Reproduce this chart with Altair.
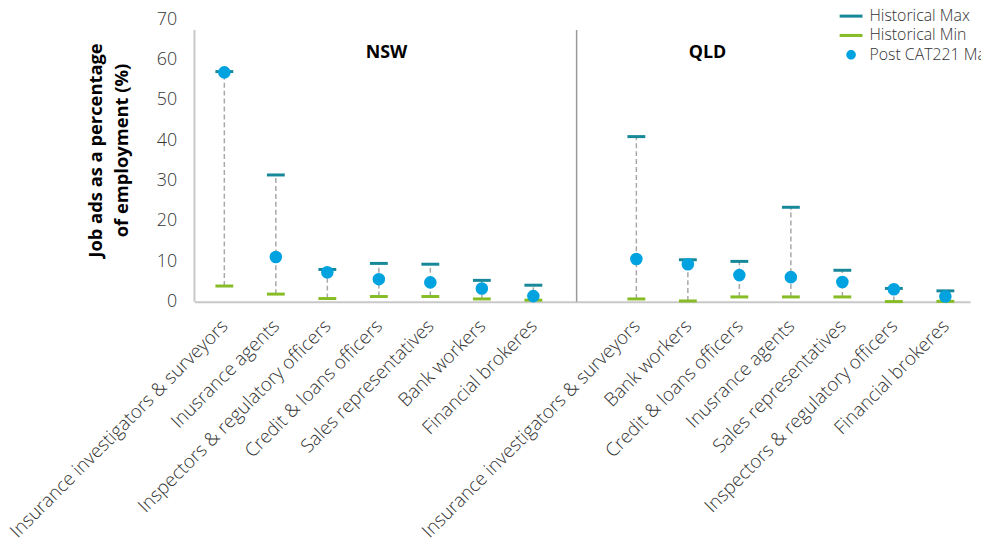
import altair as alt
import pandas as pd

regions = ["NSW"] * 7 + ["QLD"] * 7
categories = [
    "Insurance investigators & surveyors", "Inusrance agents", "Inspectors & regulatory officers",
    "Credit & loans officers", "Sales representatives", "Bank workers", "Financial brokeres",
    "Insurance investigators & surveyors", "Bank workers", "Credit & loans officers",
    "Inusrance agents", "Sales representatives", "Inspectors & regulatory officers", "Financial brokeres",
]
positions = [0, 1, 2, 3, 4, 5, 6, 8, 9, 10, 11, 12, 13, 14]
hist_max = [57.0, 31.4, 8.0, 9.5, 9.3, 5.3, 4.1, 40.9, 10.4, 10.0, 23.4, 7.8, 3.3, 2.7]
hist_min = [3.9, 1.9, 0.8, 1.3, 1.3, 0.7, 0.4, 0.7, 0.2, 1.2, 1.2, 1.2, 0.05, 0.1]
post_cat = [56.8, 11.1, 7.3, 5.6, 4.8, 3.3, 1.4, 10.6, 9.3, 6.6, 6.1, 4.9, 3.1, 1.3]

series_names = ["Historical Max", "Historical Min", "Post CAT221 Max"]
series_colors = ["#17879a", "#86bc25", "#00a3e0"]
LINE_PATH = "M-1.44,-0.19H1.44V0.19H-1.44Z"
DOT_PATH = "M-0.6,0A0.6,0.6 0 1,0 0.6,0A0.6,0.6 0 1,0 -0.6,0Z"
series_shapes = [LINE_PATH, LINE_PATH, DOT_PATH]

panel_names = ["NSW", "QLD"]
panel_x = [3.15, 9.38]
panel_y = [61.5, 61.5]

FONT = "Open Sans"

df = pd.DataFrame({
    "pos": positions, "region": regions, "cat": categories,
    "max": hist_max, "min": hist_min, "post": post_cat,
})

xdom = [-0.58, 14.48]
xscale = alt.Scale(domain=xdom, nice=False, zero=False)
yscale = alt.Scale(domain=[0, 70], nice=False)
cscale = alt.Scale(domain=series_names, range=series_colors)
sscale = alt.Scale(domain=series_names, range=series_shapes)

label_expr = "{" + ",".join(f"'{p}': '{c}'" for p, c in zip(positions, categories)) + "}[datum.value]"

xaxis = alt.Axis(
    values=positions, labelExpr=label_expr, labelAngle=-45, labelAlign="right",
    labelBaseline="middle", labelFont=FONT, labelFontSize=18.9, labelFontWeight=300,
    labelColor="#333333", labelPadding=21, ticks=False, grid=False, labelLimit=1000,
    domainColor="#c8c8c8", domainWidth=2, title=None, labelOverlap=False, labelBound=False,
    labelFlush=False,
)
yaxis = alt.Axis(
    values=[0, 10, 20, 30, 40, 50, 60, 70], labelFont=FONT, labelFontSize=18, labelFontWeight=300,
    labelColor="#333333", labelPadding=18, ticks=False, grid=False, domain=False,
    title=["Job ads as a percentage", "of employment (%)"], titleFont=FONT, titleFontSize=18.5,
    titleFontWeight="bold", titleColor="#000000", titleAngle=-90, titleX=-100, titleY=132,
    titleAlign="center", titleBaseline="middle", titleLineHeight=27, titleLimit=1000,
)

base = alt.Chart(df)

dashes = base.mark_rule(color="#a8a8a8", strokeDash=[5, 3], strokeWidth=1.5).encode(
    x=alt.X("pos:Q", scale=xscale, axis=xaxis),
    y=alt.Y("min:Q", scale=yscale, axis=yaxis),
    y2="max:Q",
)

ticks_max = base.mark_tick(orient="horizontal", thickness=3, size=18, opacity=1).encode(
    x=alt.X("pos:Q", scale=xscale),
    y=alt.Y("max:Q", scale=yscale),
    color=alt.value(series_colors[0]),
)
ticks_min = base.mark_tick(orient="horizontal", thickness=3, size=18, opacity=1).encode(
    x=alt.X("pos:Q", scale=xscale),
    y=alt.Y("min:Q", scale=yscale),
    color=alt.value(series_colors[1]),
)
dots = base.mark_point(filled=True, opacity=1, size=160, shape="circle").encode(
    x=alt.X("pos:Q", scale=xscale),
    y=alt.Y("post:Q", scale=yscale),
    color=alt.value(series_colors[2]),
)

legend = alt.Legend(
    title=None, orient="none", legendX=654, legendY=-11, labelFont=FONT, labelFontSize=16,
    labelFontWeight=300, labelColor="#333333", rowPadding=3.5, labelOffset=10.5, symbolSize=256,
    symbolOpacity=1, symbolStrokeWidth=0, labelLimit=1000,
)
legend_layer = alt.Chart(pd.DataFrame({"series": series_names})).mark_point(
    filled=True, opacity=1, clip=True).encode(
    x=alt.value(-500), y=alt.value(-500),
    color=alt.Color("series:N", scale=cscale, legend=legend),
    shape=alt.Shape("series:N", scale=sscale, legend=legend),
)

left_line = alt.Chart(pd.DataFrame({"x": [xdom[0]], "y": [0], "y2": [67.3]})).mark_rule(
    color="#c8c8c8", strokeWidth=2).encode(
    x=alt.X("x:Q", scale=xscale), y=alt.Y("y:Q", scale=yscale), y2="y2:Q")
sep_line = alt.Chart(pd.DataFrame({"x": [6.84], "y": [0], "y2": [67.3]})).mark_rule(
    color="#9a9a9a", strokeWidth=1.5).encode(
    x=alt.X("x:Q", scale=xscale), y=alt.Y("y:Q", scale=yscale), y2="y2:Q")

panels = alt.Chart(pd.DataFrame({"name": panel_names, "x": panel_x, "y": panel_y})).mark_text(
    font=FONT, fontSize=18, fontWeight="bold", color="#000000").encode(
    x=alt.X("x:Q", scale=xscale), y=alt.Y("y:Q", scale=yscale), text="name:N")

chart = alt.layer(left_line, sep_line, dashes, ticks_min, ticks_max, dots, panels, legend_layer).properties(
    width=782, height=285,
    autosize=alt.AutoSizeParams(type="none"),
    padding={"left": 188, "top": 9, "right": 11, "bottom": 237},
).configure_view(stroke=None)

chart.save("out.html", embed_options={"renderer": "svg", "actions": False})
